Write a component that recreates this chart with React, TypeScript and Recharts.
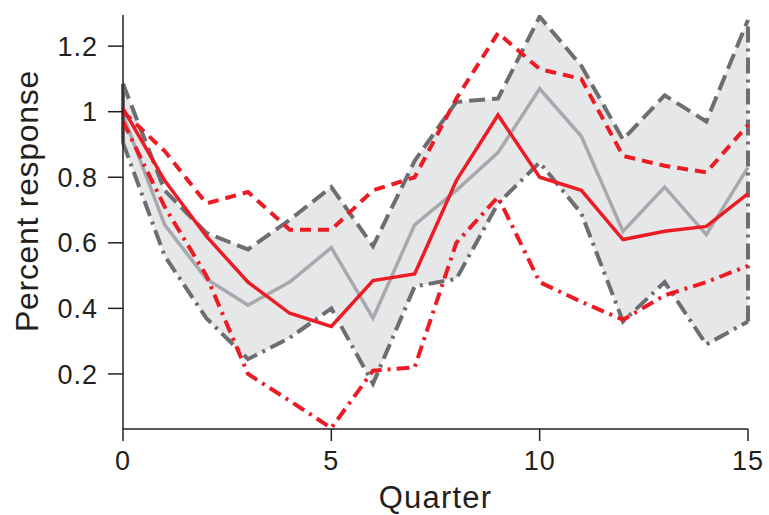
import {
  Area,
  ComposedChart,
  Line,
  ReferenceLine,
  XAxis,
  YAxis,
} from "recharts";

const quarters = [0, 1, 2, 3, 4, 5, 6, 7, 8, 9, 10, 11, 12, 13, 14, 15];
const redMean = [1.01, 0.79, 0.62, 0.48, 0.385, 0.345, 0.485, 0.505, 0.79, 0.99, 0.8, 0.76, 0.61, 0.635, 0.65, 0.75];
const redUpper = [1.0, 0.88, 0.72, 0.755, 0.64, 0.64, 0.76, 0.8, 1.04, 1.24, 1.13, 1.1, 0.865, 0.835, 0.815, 0.96];
const redLower = [0.97, 0.71, 0.5, 0.2, 0.118, 0.035, 0.21, 0.22, 0.6, 0.74, 0.48, 0.42, 0.365, 0.44, 0.48, 0.53];
const grayMid = [0.99, 0.655, 0.49, 0.41, 0.48, 0.585, 0.37, 0.655, 0.76, 0.875, 1.07, 0.925, 0.635, 0.77, 0.625, 0.83];
const grayUpper = [1.085, 0.76, 0.63, 0.58, 0.67, 0.77, 0.59, 0.85, 1.03, 1.04, 1.29, 1.14, 0.915, 1.05, 0.97, 1.28];
const grayLower = [0.905, 0.56, 0.37, 0.245, 0.31, 0.4, 0.17, 0.467, 0.49, 0.72, 0.845, 0.69, 0.36, 0.48, 0.29, 0.36];
const xTicks = [0, 5, 10, 15];
const yTicks = [0.2, 0.4, 0.6, 0.8, 1, 1.2];

const data = quarters.map((q, i) => ({
  q,
  redMean: redMean[i],
  redUpper: redUpper[i],
  redLower: redLower[i],
  grayMid: grayMid[i],
  grayUpper: grayUpper[i],
  grayLower: grayLower[i],
  band: [grayLower[i], grayUpper[i]],
}));

const INK = "#231f20";
const RED = "#ed1c24";
const DARK = "#6d6e71";
const LIGHT = "#a7a9ac";
const BAND = "#e6e7e8";
const last = quarters.length - 1;

function YLabel({ viewBox }: any) {
  const cx = viewBox.x + 38;
  const cy = viewBox.y + viewBox.height / 2 - 21;
  return (
    <text
      x={cx}
      y={cy}
      transform={`rotate(-90, ${cx}, ${cy})`}
      textAnchor="middle"
      fontSize={32}
      letterSpacing={0.7}
      fill={INK}
    >
      Percent response
    </text>
  );
}

export default function App() {
  return (
    <div
      style={{
        position: "absolute",
        left: 0,
        top: 0,
        fontFamily: "'Liberation Sans', Arial, sans-serif",
      }}
    >
      <ComposedChart
        width={769}
        height={515}
        data={data}
        margin={{ top: 15, right: 21, bottom: 0, left: 0 }}
      >
        <XAxis
          dataKey="q"
          type="number"
          domain={[0, 15]}
          ticks={xTicks}
          tickSize={12}
          tickMargin={10}
          height={86}
          stroke={INK}
          strokeWidth={1.5}
          tick={{ fontSize: 27, fill: INK, letterSpacing: 1 }}
          label={{
            value: "Quarter",
            position: "insideBottom",
            offset: 7,
            fontSize: 31,
            fill: INK,
            letterSpacing: 1.2,
          }}
        />
        <YAxis
          type="number"
          domain={[0.032, 1.295]}
          allowDataOverflow
          ticks={yTicks}
          width={123}
          tickSize={15}
          tickMargin={10}
          stroke={INK}
          strokeWidth={1.5}
          tick={{ fontSize: 27, fill: INK, letterSpacing: 1 }}
          label={<YLabel />}
        />
        <Area
          dataKey="band"
          type="linear"
          fill={BAND}
          fillOpacity={1}
          stroke="none"
          isAnimationActive={false}
        />
        <Line
          dataKey="grayMid"
          type="linear"
          stroke={LIGHT}
          strokeWidth={3.5}
          dot={false}
          isAnimationActive={false}
        />
        <Line
          dataKey="grayUpper"
          type="linear"
          stroke={DARK}
          strokeWidth={4}
          strokeDasharray="16 7"
          dot={false}
          isAnimationActive={false}
        />
        <Line
          dataKey="grayLower"
          type="linear"
          stroke={DARK}
          strokeWidth={4}
          strokeDasharray="16 6 3 6"
          dot={false}
          isAnimationActive={false}
        />
        <ReferenceLine
          segment={[
            { x: quarters[last], y: grayLower[last] },
            { x: quarters[last], y: grayUpper[last] },
          ]}
          stroke={DARK}
          strokeWidth={4}
          strokeDasharray="16 6 3 6"
        />
        <ReferenceLine
          segment={[
            { x: quarters[0], y: grayLower[0] },
            { x: quarters[0], y: grayUpper[0] },
          ]}
          stroke={DARK}
          strokeWidth={4}
        />
        <Line
          dataKey="redUpper"
          type="linear"
          stroke={RED}
          strokeWidth={4}
          strokeDasharray="11 7"
          dot={false}
          isAnimationActive={false}
        />
        <Line
          dataKey="redLower"
          type="linear"
          stroke={RED}
          strokeWidth={4}
          strokeDasharray="13 6 3 6"
          dot={false}
          isAnimationActive={false}
        />
        <Line
          dataKey="redMean"
          type="linear"
          stroke={RED}
          strokeWidth={3.5}
          dot={false}
          isAnimationActive={false}
        />
      </ComposedChart>
    </div>
  );
}
